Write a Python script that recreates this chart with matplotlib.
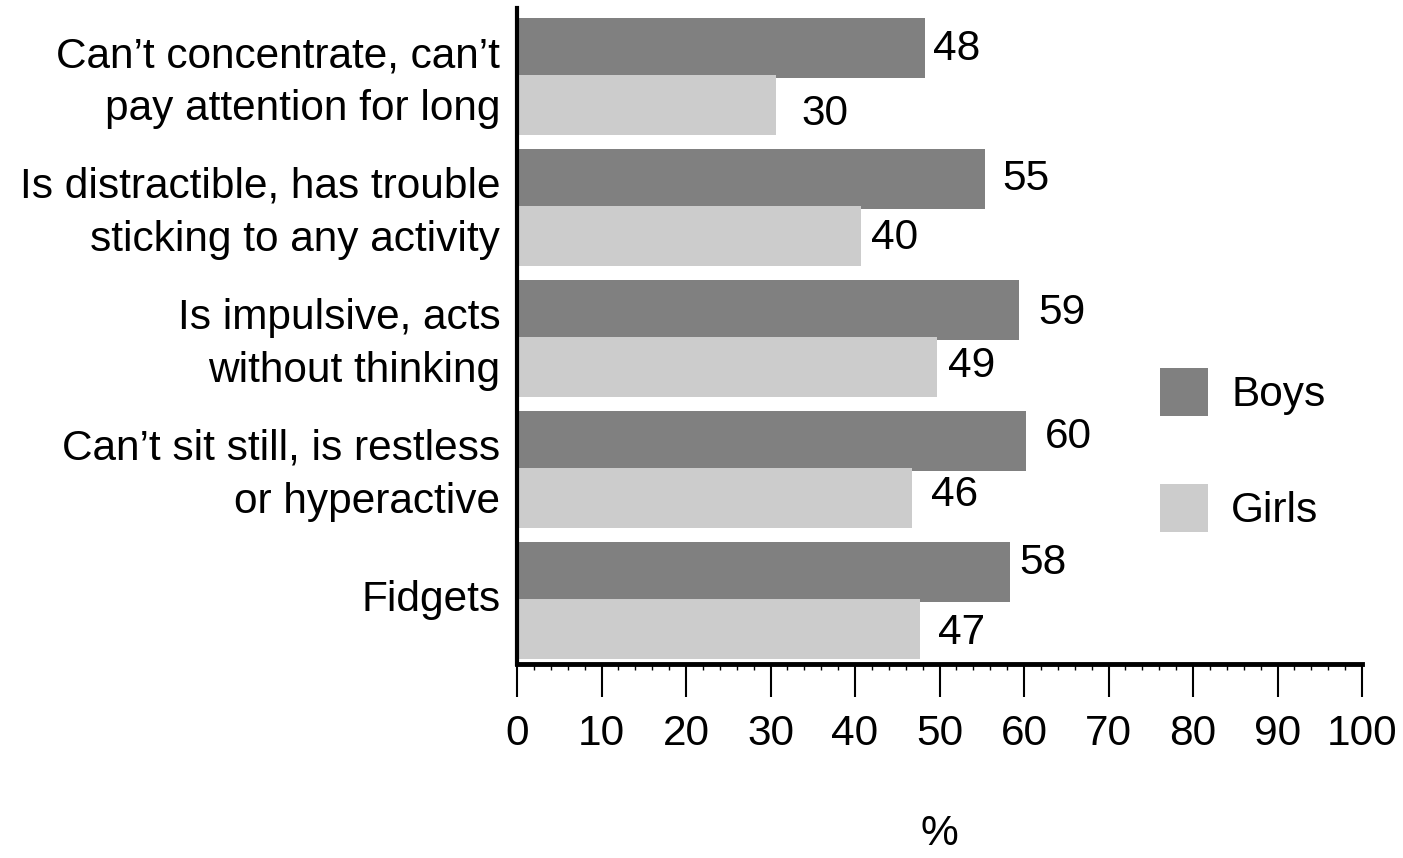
import matplotlib
matplotlib.use("Agg")
import matplotlib.pyplot as plt
import matplotlib.transforms as mtransforms
from matplotlib.ticker import MultipleLocator


plt.rcParams["font.family"] = ["Liberation Sans", "DejaVu Sans"]

CATEGORIES = [
    "Can\u2019t concentrate, can\u2019t\npay attention for long",
    "Is distractible, has trouble\nsticking to any activity",
    "Is impulsive, acts\nwithout thinking",
    "Can\u2019t sit still, is restless\nor hyperactive",
    "Fidgets",
]

# bar lengths, labels as printed
BOYS = [48.3, 55.4, 59.4, 60.2, 58.3]
GIRLS = [30.7, 40.7, 49.7, 46.7, 47.7]
BOYS_LABELS = ["48", "55", "59", "60", "58"]
GIRLS_LABELS = ["30", "40", "49", "46", "47"]

# label nudges (pixels: right of bar end, up from bar centre)
BOYS_NUDGE = [(8, 4), (17, 5), (19, 1), (19, 8), (10, 13)]
GIRLS_NUDGE = [(25, -5), (10, 2), (11, 5), (19, 7), (18, 0)]

BOYS_COLOR = "#808080"
GIRLS_COLOR = "#cccccc"
FS = 30.5

fig = plt.figure(figsize=(14.03, 8.58), dpi=100)
ax = fig.add_axes([517 / 1403, 1 - 664 / 858, (1362 - 517) / 1403, (664 - 8) / 858])

ypos = list(range(len(CATEGORIES)))
bar_h = 0.458
shift = 0.2175

ax.barh([y - shift for y in ypos], BOYS, height=bar_h, color=BOYS_COLOR,
        label="Boys", zorder=2)
ax.barh([y + shift for y in ypos], GIRLS, height=bar_h, color=GIRLS_COLOR,
        label="Girls", zorder=3)

for y, v, lab, (dx, dy) in zip(ypos, BOYS, BOYS_LABELS, BOYS_NUDGE):
    ax.annotate(lab, (v, y - shift), xytext=(dx, dy), textcoords="offset pixels",
                ha="left", va="center_baseline", fontsize=FS)
for y, v, lab, (dx, dy) in zip(ypos, GIRLS, GIRLS_LABELS, GIRLS_NUDGE):
    ax.annotate(lab, (v, y + shift), xytext=(dx, dy), textcoords="offset pixels",
                ha="left", va="center_baseline", fontsize=FS)

ax.set_xlim(0, 100)
ax.set_ylim(4.485, -0.523)

ax.set_yticks(ypos)
ax.set_yticklabels(CATEGORIES, fontsize=FS, linespacing=1.42)
ax.tick_params(axis="y", length=0, pad=12)
# category labels sit a little above the group centre
lift = mtransforms.ScaledTranslation(0, 5 / 100, fig.dpi_scale_trans)
for t in ax.get_yticklabels():
    t.set_transform(t.get_transform() + lift)

ax.xaxis.set_major_locator(MultipleLocator(10))
ax.xaxis.set_minor_locator(MultipleLocator(2))
ax.tick_params(axis="x", which="major", length=24, width=1.5, pad=12,
               labelsize=FS)
ax.tick_params(axis="x", which="minor", length=4.5, width=1)

for side in ["top", "right"]:
    ax.spines[side].set_visible(False)
ax.spines["left"].set_linewidth(3)
ax.spines["bottom"].set_linewidth(3.5)
ax.spines["left"].set_zorder(5)
ax.spines["bottom"].set_zorder(5)

ax.set_xlabel("%", fontsize=FS, labelpad=43)

ax.legend(loc="upper left", bbox_to_anchor=(1160 / 1403, 1 - 368 / 858),
          bbox_transform=fig.transFigure, frameon=False, fontsize=FS,
          handlelength=1.13, handleheight=1.37, handletextpad=0.55,
          labelspacing=1.6, borderpad=0, borderaxespad=0)

fig.savefig("out.png", dpi=100)
